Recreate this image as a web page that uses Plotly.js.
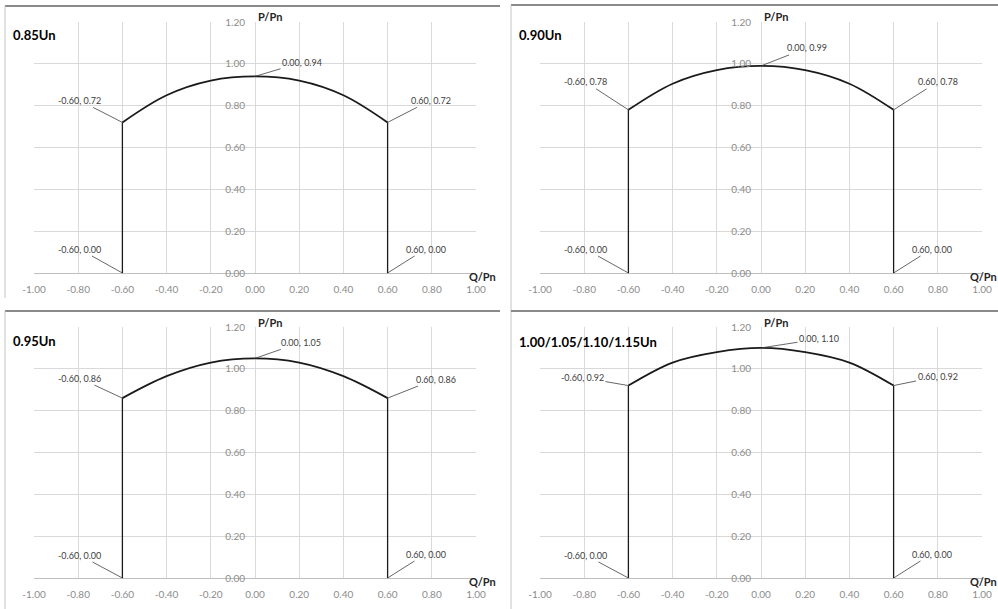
<!DOCTYPE html>
<html>
<head>
<meta charset="utf-8">
<script src="https://cdn.plot.ly/plotly-3.0.1.min.js"></script>
<style>html,body{margin:0;padding:0;background:#fff;}#chart{width:998px;height:609px;}</style>
</head>
<body>
<div id="chart"></div>
<script>
// ---- data ----
const panelTitles = ["0.85Un", "0.90Un", "0.95Un", "1.00/1.05/1.10/1.15Un"];
const qArc = [-0.6, -0.4, -0.2, 0, 0.2, 0.4, 0.6];
const p085 = [0.72, 0.85, 0.92, 0.94, 0.92, 0.85, 0.72];
const p090 = [0.78, 0.905, 0.97, 0.99, 0.97, 0.905, 0.78];
const p095 = [0.86, 0.965, 1.03, 1.05, 1.03, 0.965, 0.86];
const p110 = [0.92, 1.03, 1.08, 1.10, 1.08, 1.03, 0.92];
const xTickVals = [-1, -0.8, -0.6, -0.4, -0.2, 0, 0.2, 0.4, 0.6, 0.8, 1];
const xTickText = ["-1.00", "-0.80", "-0.60", "-0.40", "-0.20", "0.00", "0.20", "0.40", "0.60", "0.80", "1.00"];
const yTickVals = [0, 0.2, 0.4, 0.6, 0.8, 1.0, 1.2];
const yTickText = ["0.00", "0.20", "0.40", "0.60", "0.80", "1.00", "1.20"];
const xAxisName = "Q/Pn";
const yAxisName = "P/Pn";

// ---- layout helpers ----
const W = 998, H = 609;
const px = x => x / W;
const py = y => 1 - y / H;
const series = [p085, p090, p095, p110];

// panel geometry in pixels
const panels = [
  {x0: 34,  x1: 476, y0: 22,  y1: 273, titleX: 11,  titleY: 35,  qShift: 9},
  {x0: 540, x1: 982, y0: 22,  y1: 273, titleX: 517, titleY: 35,  qShift: 14},
  {x0: 34,  x1: 476, y0: 327, y1: 578, titleX: 11,  titleY: 341, qShift: 9},
  {x0: 540, x1: 982, y0: 327, y1: 578, titleX: 517, titleY: 342, qShift: 14}
];
// label offsets [ax, ay] for: left-top, right-top, peak, left-bottom, right-bottom
const labelOffsets = [
  [[-43, -22], [43, -22], [47, -14], [-43, -24], [38, -24]],
  [[-43, -28], [44, -28], [46, -18], [-43, -24], [38, -24]],
  [[-43, -20], [48, -19], [46, -16], [-43, -23], [38, -24]],
  [[-46, -8],  [44, -9],  [58, -9],  [-43, -23], [38, -24]]
];

const tickFont = {family: "Lato, 'Open Sans', sans-serif", size: 10, color: "#8c8c8c"};
const labelFont = {family: "Lato, 'Open Sans', sans-serif", size: 9, color: "#404040"};
const boldFont = {family: "Lato, 'Open Sans', sans-serif", size: 11, color: "#262626", weight: 700};
const titleFont = {family: "Lato, 'Open Sans', sans-serif", size: 13, color: "#000000", weight: 700};

const traces = [];
const annotations = [];
const layout = {
  width: W, height: H,
  margin: {l: 0, r: 0, t: 0, b: 0},
  paper_bgcolor: "#ffffff", plot_bgcolor: "#ffffff",
  showlegend: false,
  shapes: [],
  annotations: annotations
};

const fmt = v => (v < 0 ? "-" : "") + Math.abs(v).toFixed(2);

panels.forEach((pn, i) => {
  const n = i === 0 ? "" : String(i + 1);
  const xa = "x" + n, ya = "y" + n;
  const p = series[i];
  const last = p.length - 1;
  // arc
  traces.push({x: qArc, y: p, xaxis: xa, yaxis: ya, mode: "lines", type: "scatter",
    line: {color: "#1a1a1a", width: 1.8, shape: "spline", smoothing: 1}, hoverinfo: "skip"});
  // vertical sides
  traces.push({x: [qArc[0], qArc[0]], y: [0, p[0]], xaxis: xa, yaxis: ya, mode: "lines", type: "scatter",
    line: {color: "#1a1a1a", width: 1.3}, hoverinfo: "skip"});
  traces.push({x: [qArc[last], qArc[last]], y: [0, p[last]], xaxis: xa, yaxis: ya, mode: "lines", type: "scatter",
    line: {color: "#1a1a1a", width: 1.3}, hoverinfo: "skip"});

  layout["xaxis" + n] = {
    domain: [px(pn.x0), px(pn.x1)], anchor: ya, range: [-1, 1],
    tickvals: xTickVals, ticktext: xTickText, tickfont: tickFont,
    ticks: "outside", ticklen: 7, tickcolor: "rgba(0,0,0,0)",
    showgrid: true, gridcolor: "#d9d9d9", gridwidth: 1, zeroline: false,
    showline: true, linecolor: "#bfbfbf", linewidth: 1, fixedrange: true
  };
  layout["yaxis" + n] = {
    domain: [py(pn.y1), py(pn.y0)], anchor: "free", position: px((pn.x0 + pn.x1) / 2),
    range: [0, 1.2],
    tickvals: yTickVals, ticktext: yTickText, tickfont: tickFont,
    ticks: "outside", ticklen: 8, tickcolor: "rgba(0,0,0,0)",
    showgrid: true, gridcolor: "#d9d9d9", gridwidth: 1, zeroline: false,
    showline: false, fixedrange: true
  };

  // data labels
  const pts = [[qArc[0], p[0]], [qArc[last], p[last]], [qArc[3], p[3]], [qArc[0], 0], [qArc[last], 0]];
  pts.forEach((pt, k) => {
    annotations.push({
      xref: xa, yref: ya, x: pt[0], y: pt[1],
      text: fmt(pt[0]) + ", " + fmt(pt[1]),
      showarrow: true, arrowhead: 0, arrowwidth: 0.8, arrowcolor: "#404040",
      ax: labelOffsets[i][k][0], ay: labelOffsets[i][k][1],
      font: labelFont, standoff: 0, startstandoff: 0
    });
  });

  // axis names
  annotations.push({xref: "paper", yref: "paper", x: px((pn.x0 + pn.x1) / 2 + 1), y: py(pn.y0 - 5),
    xanchor: "left", yanchor: "middle", text: yAxisName, showarrow: false, font: boldFont});
  annotations.push({xref: "paper", yref: "paper", x: px(pn.x1 - pn.qShift), y: py(pn.y1 + 3),
    xanchor: "left", yanchor: "middle", text: xAxisName, showarrow: false, font: boldFont});
  // panel title
  annotations.push({xref: "paper", yref: "paper", x: px(pn.titleX), y: py(pn.titleY),
    xanchor: "left", yanchor: "middle", text: panelTitles[i], showarrow: false, font: titleFont});
});

// panel borders
const dark = {color: "#8a8a8a", width: 2};
const light = {color: "#c4c4c4", width: 1};
[
  [5, 6, 500, 6, dark], [5, 6, 5, 298, light],
  [511, 5, 998, 5, dark], [511, 5, 511, 609, light],
  [5, 311, 500, 311, dark], [5, 311, 5, 609, light],
  [511, 311, 998, 311, dark]
].forEach(s => layout.shapes.push({type: "line", xref: "paper", yref: "paper",
  x0: px(s[0]), y0: py(s[1]), x1: px(s[2]), y1: py(s[3]), line: s[4], layer: "above"}));

Plotly.newPlot("chart", traces, layout, {staticPlot: true, displayModeBar: false});
</script>
</body>
</html>
